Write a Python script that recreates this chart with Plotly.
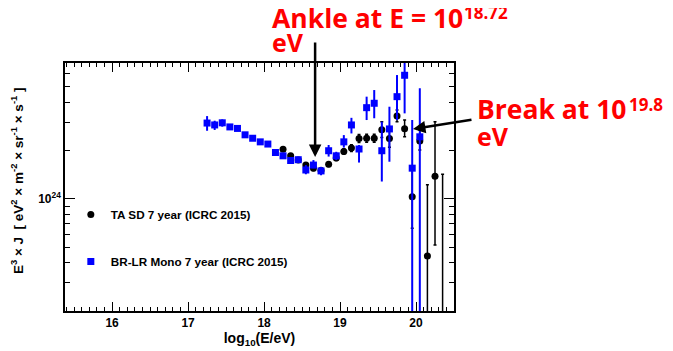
import plotly.graph_objects as go
import numpy as np

# BR-LR Mono 7 year (ICRC 2015)
blue_x = [17.25, 17.35, 17.45, 17.55, 17.65, 17.75, 17.85, 17.95, 18.05, 18.15,
          18.25, 18.35, 18.45, 18.55, 18.65, 18.75, 18.85, 18.95, 19.05, 19.15,
          19.25, 19.35, 19.45, 19.55, 19.65, 19.75, 19.85, 19.95, 20.05]
blue_y = [2.96, 2.88, 2.97, 2.80, 2.74, 2.50, 2.38, 2.26, 2.19, 1.94,
          1.85, 1.73, 1.75, 1.51, 1.62, 1.49, 1.99, 1.85, 2.26, 2.88,
          2.04, 3.69, 3.93, 1.99, 2.72, 4.32, 5.87, 1.55, 2.43]
blue_hi = [3.27, 3.06, 3.12, 2.88, 2.81, 2.56, 2.44, 2.32, 2.25, 2.00,
           1.91, 1.79, 1.82, 1.62, 1.74, 1.58, 2.16, 1.96, 2.49, 3.19,
           2.16, 4.32, 4.75, 3.02, 3.74, 5.89, 8.00, 3.09, 4.87]
blue_lo = [2.65, 2.68, 2.81, 2.72, 2.67, 2.44, 2.32, 2.20, 2.13, 1.88,
           1.79, 1.67, 1.68, 1.42, 1.55, 1.40, 1.83, 1.74, 2.08, 2.55,
           1.68, 3.09, 3.17, 1.28, 1.70, 3.09, 3.40, 0.01, 0.01]

# TA SD 7 year (ICRC 2015)
black_x = [18.25, 18.35, 18.45, 18.55, 18.65, 18.75, 18.85, 18.95, 19.05, 19.15,
           19.25, 19.35, 19.45, 19.55, 19.65, 19.75, 19.85, 19.95, 20.05, 20.15,
           20.25, 20.35]
black_y = [2.03, 1.85, 1.74, 1.62, 1.55, 1.50, 1.64, 1.79, 1.97, 2.07,
           2.37, 2.38, 2.38, 2.69, 2.37, 3.27, 2.73, 1.03, 2.29, 0.44,
           1.38, 0.12]
black_hi = [2.08, 1.90, 1.79, 1.67, 1.60, 1.55, 1.69, 1.85, 2.05, 2.17,
            2.51, 2.52, 2.52, 3.02, 2.68, 3.57, 3.09, 1.55, 2.68, 1.22,
            3.02, 1.42]
black_lo = [1.98, 1.80, 1.69, 1.57, 1.50, 1.45, 1.59, 1.73, 1.89, 1.97,
            2.24, 2.25, 2.25, 2.41, 2.09, 3.02, 2.43, 0.654, 2.01, 0.01,
            0.515, 0.01]

scale = 1e24
x_tick_vals = [16, 17, 18, 19, 20]
y_tick_vals = [1e24]
y_tick_text = ["10<sup>24</sup>"]
y_minor_vals = [2e23, 3e23, 4e23, 5e23, 6e23, 7e23, 8e23, 9e23,
                2e24, 3e24, 4e24, 5e24, 6e24, 7e24]

ankle_logE = 18.672
ankle_logY = 24.26
break_logE = 19.96
break_logY = 24.434


def conv(vals):
    return [v * scale for v in vals]


by, bh, bl = conv(blue_y), conv(blue_hi), conv(blue_lo)
ky, kh, kl = conv(black_y), conv(black_hi), conv(black_lo)

fig = go.Figure()

fig.add_trace(go.Scatter(
    x=black_x, y=ky, mode="markers", name="TA SD 7 year (ICRC 2015)",
    legendgroup="a",
    marker=dict(symbol="circle", size=7, color="black"),
    error_y=dict(type="data", symmetric=False,
                 array=[h - v for h, v in zip(kh, ky)],
                 arrayminus=[v - l for v, l in zip(ky, kl)],
                 color="black", thickness=1.5, width=1.5),
))
fig.add_trace(go.Scatter(
    x=blue_x, y=by, mode="markers", name="BR-LR Mono 7 year (ICRC 2015)",
    legendgroup="b",
    marker=dict(symbol="square", size=7, color="#0000ff"),
    error_y=dict(type="data", symmetric=False,
                 array=[h - v for h, v in zip(bh, by)],
                 arrayminus=[v - l for v, l in zip(by, bl)],
                 color="#0000ff", thickness=2, width=0),
))

axis_font = dict(family="Liberation Sans", size=12, color="black", weight="bold")

# page body has an 8px margin, so the figure is drawn 8px smaller
fig.update_layout(
    width=665, height=343,
    margin=dict(l=57, r=219, t=55, b=40, autoexpand=False),
    paper_bgcolor="white", plot_bgcolor="white",
    showlegend=True,
    legend=dict(x=0.015, y=0.448, xanchor="left", yanchor="top",
                bgcolor="rgba(0,0,0,0)", font=dict(family="Liberation Sans", size=11.7,
                                                     color="black", weight="bold"),
                tracegroupgap=28),
    xaxis=dict(range=[15.38, 20.5], tickmode="array", tickvals=x_tick_vals,
               ticks="inside", ticklen=9, tickwidth=1, tickcolor="black",
               mirror="allticks", showline=True, linecolor="black", linewidth=1.5,
               showgrid=False, zeroline=False, tickfont=axis_font, automargin=False,
               minor=dict(dtick=0.1, tick0=0, ticks="inside", ticklen=4, tickcolor="black", showgrid=False),
               title=dict(text="log<sub>10</sub>(E/eV)", standoff=4,
                          font=dict(family="Liberation Sans", size=14, color="black", weight="bold"))),
    yaxis=dict(type="log", range=[np.log10(2e23), np.log10(7e24)],
               tickmode="array", tickvals=y_tick_vals, ticktext=y_tick_text,
               ticks="inside", ticklen=10, tickwidth=1, tickcolor="black",
               mirror="allticks", showline=True, linecolor="black", linewidth=1.5,
               showgrid=False, zeroline=False, tickfont=axis_font, automargin=False,
               minor=dict(tickmode="array", tickvals=y_minor_vals, ticks="inside",
                          ticklen=5, tickcolor="black", showgrid=False)),
)

# y-axis title (placed as rotated text, slightly above the plot's middle like the reference)
fig.add_annotation(xref="paper", yref="paper", x=-0.1234, y=0.528, xanchor="center", yanchor="middle",
                   textangle=-90, showarrow=False,
                   text="E<sup>3</sup> × J  [ eV<sup>2</sup> × m<sup>-2</sup> × sr<sup>-1</sup> × s<sup>-1</sup> ]",
                   font=dict(family="Liberation Sans", size=13.5, color="black", weight="bold"))

red_main = dict(family="Open Sans", size=26.5, color="#ff0000", weight="bold")
red_font = dict(family="Open Sans", size=25, color="#ff0000", weight="bold")
red_sup = dict(family="Open Sans", size=17, color="#ff0000", weight="bold")

fig.add_annotation(x=ankle_logE, y=ankle_logY, xref="x", yref="y",
                   ax=0, ay=-116, axref="pixel", ayref="pixel",
                   showarrow=True, arrowhead=2, arrowsize=1, arrowwidth=2.5,
                   arrowcolor="black", text="")
fig.add_annotation(x=break_logE, y=break_logY, xref="x", yref="y",
                   ax=60, ay=-9.5, axref="pixel", ayref="pixel",
                   showarrow=True, arrowhead=2, arrowsize=1, arrowwidth=2.5,
                   arrowcolor="black", text="")

fig.add_annotation(xref="paper", yref="paper", x=0.528, y=1.181, xanchor="left", yanchor="middle",
                   text="Ankle at E = 10", showarrow=False, font=red_main)
fig.add_annotation(xref="paper", yref="paper", x=1.020, y=1.2056, xanchor="left", yanchor="middle",
                   text="18.72", showarrow=False, font=red_sup)
fig.add_annotation(xref="paper", yref="paper", x=0.528, y=1.085, xanchor="left", yanchor="middle",
                   text="eV", showarrow=False, font=red_font)
fig.add_annotation(xref="paper", yref="paper", x=1.054, y=0.814, xanchor="left", yanchor="middle",
                   text="Break at 10", showarrow=False, font=red_main)
fig.add_annotation(xref="paper", yref="paper", x=1.445, y=0.8327, xanchor="left", yanchor="middle",
                   text="19.8", showarrow=False, font=red_sup)
fig.add_annotation(xref="paper", yref="paper", x=1.054, y=0.704, xanchor="left", yanchor="middle",
                   text="eV", showarrow=False, font=red_font)

fig.write_html("out.html")
